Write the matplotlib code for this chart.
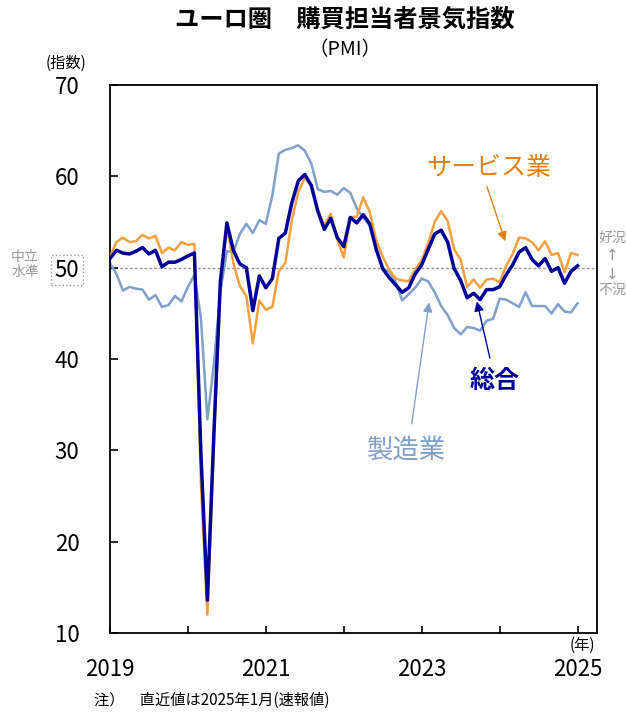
import matplotlib
matplotlib.use("Agg")
import matplotlib.pyplot as plt

plt.rcParams["font.family"] = ["Noto Sans CJK JP", "DejaVu Sans"]

# 2019年1月〜2025年1月 (月次)
composite = [
    51.0, 51.9, 51.6, 51.5, 51.8, 52.2, 51.5, 51.9, 50.1, 50.6, 50.6, 50.9,
    51.3, 51.6, 29.7, 13.6, 31.9, 48.5, 54.9, 51.9, 50.4, 50.0, 45.3, 49.1,
    47.8, 48.8, 53.2, 53.8, 57.1, 59.5, 60.2, 59.0, 56.2, 54.2, 55.4, 53.3,
    52.3, 55.5, 54.9, 55.8, 54.8, 52.0, 49.9, 48.9, 48.1, 47.3, 47.8, 49.3,
    50.3, 52.0, 53.7, 54.1, 52.8, 49.9, 48.6, 46.7, 47.2, 46.5, 47.6, 47.6,
    47.9, 49.2, 50.3, 51.7, 52.2, 50.9, 50.2, 51.0, 49.6, 50.0, 48.3, 49.6,
    50.2,
]
services = [
    51.2, 52.8, 53.3, 52.8, 52.9, 53.6, 53.2, 53.5, 51.6, 52.2, 51.9, 52.8,
    52.5, 52.6, 26.4, 12.0, 30.5, 48.3, 54.7, 50.5, 48.0, 46.9, 41.7, 46.4,
    45.4, 45.7, 49.6, 50.5, 55.2, 58.3, 59.8, 59.0, 56.4, 54.6, 55.9, 53.1,
    51.1, 55.5, 55.6, 57.7, 56.1, 53.0, 51.2, 49.8, 48.8, 48.6, 48.5, 49.8,
    50.8, 52.7, 55.0, 56.2, 55.1, 52.0, 50.9, 47.9, 48.7, 47.8, 48.7, 48.8,
    48.4, 50.2, 51.5, 53.3, 53.2, 52.8, 51.9, 52.9, 51.4, 51.6, 49.5, 51.6,
    51.4,
]
manufacturing = [
    50.5, 49.3, 47.5, 47.9, 47.7, 47.6, 46.5, 47.0, 45.7, 45.9, 46.9, 46.3,
    47.9, 49.2, 44.5, 33.4, 39.4, 47.4, 51.8, 51.7, 53.7, 54.8, 53.8, 55.2,
    54.8, 57.9, 62.5, 62.9, 63.1, 63.4, 62.8, 61.4, 58.6, 58.3, 58.4, 58.0,
    58.7, 58.2, 56.5, 55.5, 54.6, 52.1, 49.8, 49.6, 48.4, 46.4, 47.1, 47.8,
    48.8, 48.5, 47.3, 45.8, 44.8, 43.4, 42.7, 43.5, 43.4, 43.1, 44.2, 44.4,
    46.6, 46.5, 46.1, 45.7, 47.3, 45.8, 45.8, 45.8, 45.0, 46.0, 45.2, 45.1,
    46.1,
]
year_labels = ["2019", "", "2021", "", "2023", "", "2025"]

months = list(range(len(composite)))

c_comp = "#000099"
c_serv = "#F5A040"
c_manu = "#7FA0C8"

fig = plt.figure(figsize=(6.26, 7.15), dpi=100)
ax = fig.add_axes([0.1757, 0.1147, 0.7780, 0.7664])

ax.axhline(50, color="#999999", linestyle=(0, (2, 1.5)), linewidth=1, zorder=1)
ax.plot(months, manufacturing, color=c_manu, linewidth=1.8, zorder=2)
ax.plot(months, services, color=c_serv, linewidth=1.8, zorder=3)
ax.plot(months, composite, color=c_comp, linewidth=2.5, zorder=4)

ax.set_xlim(0, 75)
ax.set_ylim(10, 70)
ax.set_xticks(range(0, 73, 12))
ax.set_xticklabels(year_labels, fontsize=16)
ax.set_yticks(range(10, 71, 10))
ax.set_yticklabels([str(v) for v in range(10, 71, 10)], fontsize=16)
ax.tick_params(axis="y", direction="in", length=6, width=1.2, pad=22)
ax.tick_params(axis="x", direction="in", length=5, width=1.2, pad=18)
for s in ax.spines.values():
    s.set_linewidth(1.3)

# 50 に点線の枠
for lab in ax.get_yticklabels():
    if lab.get_text() == "50":
        lab.set_bbox(dict(boxstyle="square,pad=0.15", fc="none",
                          ec="#999999", ls=":", lw=1))

# 系列ラベルと矢印
ax.annotate("", xy=(61.0, 52.6), xytext=(57.9, 59.2),
            arrowprops=dict(arrowstyle="-|>", color="#E08010", lw=1,
                            mutation_scale=14))
ax.text(58.4, 60.9, "サービス業", color="#E08010", fontsize=18,
        ha="center", va="center")

ax.annotate("", xy=(56.4, 46.6), xytext=(58.6, 39.8),
            arrowprops=dict(arrowstyle="-|>", color=c_comp, lw=1,
                            mutation_scale=14))
ax.text(59.2, 37.6, "総合", color=c_comp, fontsize=18, fontweight="bold",
        ha="center", va="center")

ax.annotate("", xy=(49.2, 46.5), xytext=(46.4, 32.6),
            arrowprops=dict(arrowstyle="-|>", color=c_manu, lw=1,
                            mutation_scale=14))
ax.text(45.7, 30.0, "製造業", color=c_manu, fontsize=19,
        ha="center", va="center")

# 周辺テキスト
fig.text(0.551, 0.972, "ユーロ圏　購買担当者景気指数", fontsize=17.5,
         fontweight="bold", ha="center", va="center")
fig.text(0.551, 0.930, "（PMI）", fontsize=14, ha="center", va="center")
fig.text(0.105, 0.912, "(指数)", fontsize=11, ha="center", va="center")
fig.text(0.040, 0.630, "中立\n水準", fontsize=10, color="#999999",
         ha="center", va="center", linespacing=1.1)
fig.text(0.978, 0.667, "好況", fontsize=10, color="#999999",
         ha="center", va="center")
fig.text(0.978, 0.642, "↑", fontsize=11, color="#999999",
         ha="center", va="center", family="DejaVu Sans")
fig.text(0.978, 0.616, "↓", fontsize=11, color="#999999",
         ha="center", va="center", family="DejaVu Sans")
fig.text(0.978, 0.595, "不況", fontsize=10, color="#999999",
         ha="center", va="center")
fig.text(0.930, 0.098, "(年)", fontsize=11, ha="center", va="center")
fig.text(0.150, 0.020, "注）　直近値は2025年1月(速報値)", fontsize=11,
         ha="left", va="center")

fig.savefig("out.png", dpi=100)
plt.close(fig)
